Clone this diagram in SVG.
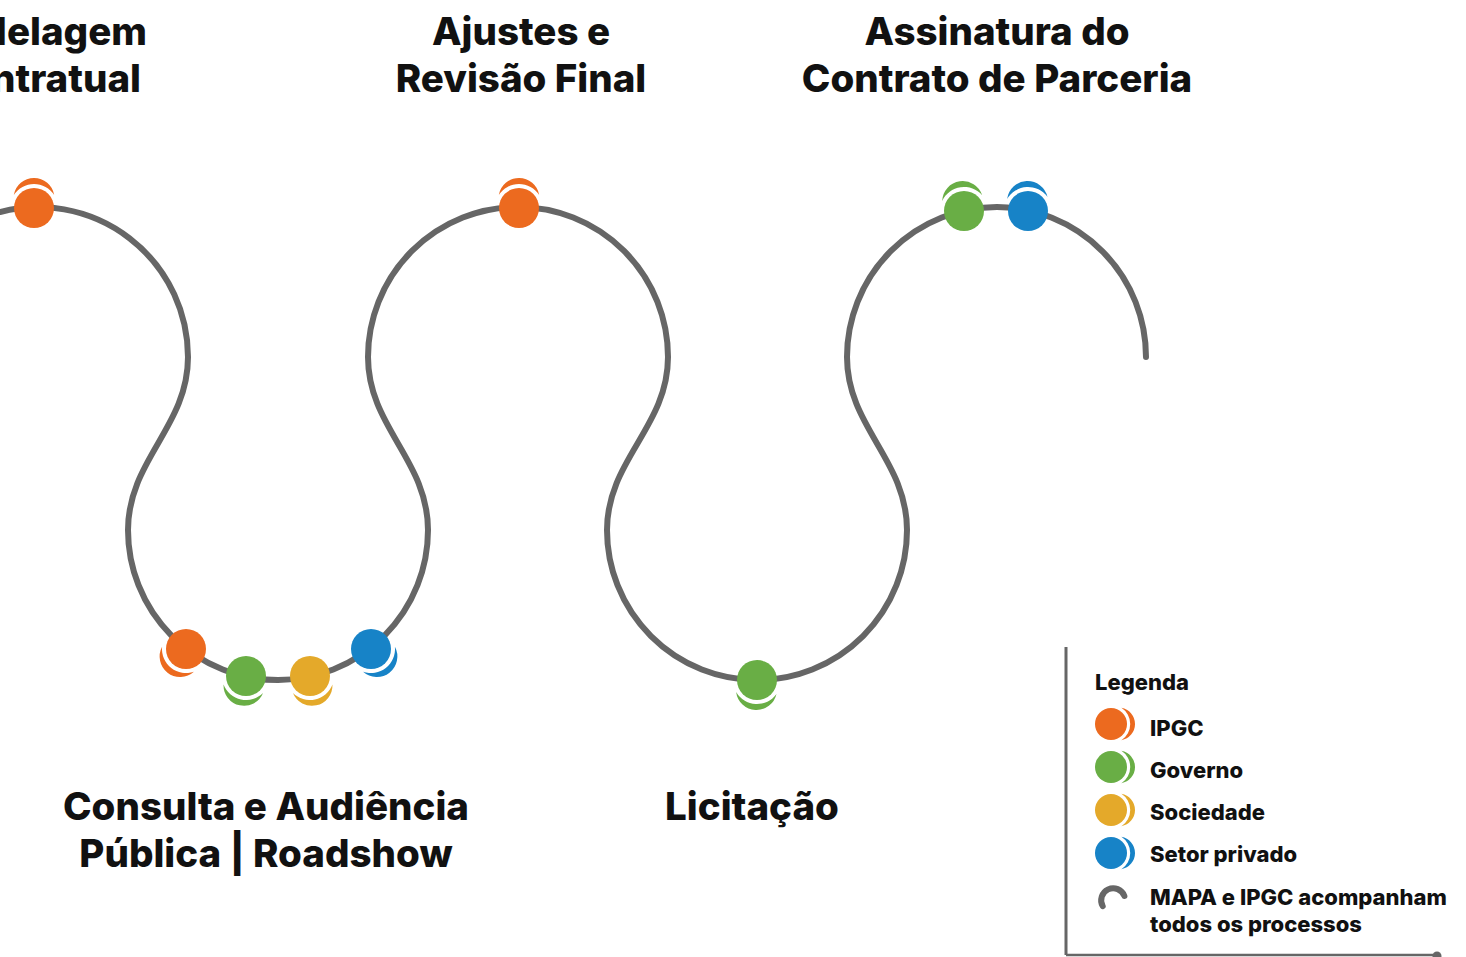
<svg xmlns="http://www.w3.org/2000/svg" width="1466" height="957" viewBox="0 0 1466 957">
<style>
.t{font-family:Inter,"Liberation Sans",sans-serif;font-weight:800;fill:#111;font-size:38.5px;text-anchor:middle}
.l{font-family:Inter,"Liberation Sans",sans-serif;font-weight:800;fill:#111;font-size:22px}
.o{fill:#EC6A1F}.g{fill:#69AE45}.y{fill:#E4A92A}.b{fill:#1783C7}
.track{fill:none;stroke:#666;stroke-width:6;stroke-linecap:round}
</style>
<defs>
<path id="cr" d="M -20.2 -13 A 20.5 20.5 0 0 1 20.2 -13 A 24 24 0 0 0 -20.2 -13 Z"/>
</defs>
<rect width="1466" height="957" fill="#fff"/>
<g id="connectors">
<path class="track" d="M 0 212 A 150 150 0 0 1 188 357 C 188 427 128 460 128 530 A 150 150 0 0 0 278 680 A 150 150 0 0 0 428 530 C 428 460 368 427 368 357 A 150 150 0 0 1 518 207 A 150 150 0 0 1 668 357 C 668 427 607 460 607 530 A 150 150 0 0 0 757 680 A 150 150 0 0 0 907 530 C 907 460 847 427 847 357 A 150 150 0 0 1 997 207 A 150 150 0 0 1 1146 357"/>
</g>
<g id="title-modelagem"><text class="t" style="text-anchor:end" x="147" y="45">delagem</text><text class="t" style="text-anchor:end" x="141" y="92">ntratual</text></g>
<g id="title-ajustes"><text class="t" x="521" y="45">Ajustes e</text><text class="t" x="521" y="92">Revisão Final</text></g>
<g id="title-assinatura"><text class="t" x="997" y="45">Assinatura do</text><text class="t" x="997" y="92">Contrato de Parceria</text></g>
<g id="title-consulta"><text class="t" x="266" y="820">Consulta e Audiência</text><text class="t" x="266" y="867">Pública | Roadshow</text></g>
<g id="title-licitacao"><text class="t" x="752" y="820">Licitação</text></g>
<g id="dot1"><use href="#cr" class="o" transform="translate(34 208)"/><circle class="o" cx="34" cy="208" r="20"/></g>
<g id="dot2"><use href="#cr" class="o" transform="translate(519 208)"/><circle class="o" cx="519" cy="208" r="20"/></g>
<g id="dot3"><use href="#cr" class="g" transform="translate(964 211) rotate(-8)"/><circle class="g" cx="964" cy="211" r="20"/></g>
<g id="dot4"><use href="#cr" class="b" transform="translate(1028 211) rotate(-3)"/><circle class="b" cx="1028" cy="211" r="20"/></g>
<g id="dot5"><use href="#cr" class="o" transform="translate(186 649) rotate(-142)"/><circle class="o" cx="186" cy="649" r="20"/></g>
<g id="dot6"><use href="#cr" class="g" transform="translate(246 676) rotate(-168)"/><circle class="g" cx="246" cy="676" r="20"/></g>
<g id="dot7"><use href="#cr" class="y" transform="translate(310 676) rotate(168)"/><circle class="y" cx="310" cy="676" r="20"/></g>
<g id="dot8"><use href="#cr" class="b" transform="translate(371 649) rotate(142)"/><circle class="b" cx="371" cy="649" r="20"/></g>
<g id="dot9"><use href="#cr" class="g" transform="translate(757 680) rotate(183)"/><circle class="g" cx="757" cy="680" r="20"/></g>
<g id="legend">
<line x1="1066" y1="647" x2="1066" y2="955" stroke="#666" stroke-width="3"/>
<line x1="1066" y1="955" x2="1440" y2="955" stroke="#666" stroke-width="2.5"/>
<circle cx="1437" cy="956" r="4.5" fill="#666"/>
<text class="l" x="1095" y="690">Legenda</text>
<use href="#cr" class="o" transform="translate(1111 724) rotate(90) scale(0.8)"/><circle class="o" cx="1111" cy="724" r="16"/>
<text class="l" x="1150" y="736">IPGC</text>
<use href="#cr" class="g" transform="translate(1111 767) rotate(90) scale(0.8)"/><circle class="g" cx="1111" cy="767" r="16"/>
<text class="l" x="1150" y="778">Governo</text>
<use href="#cr" class="y" transform="translate(1111 810) rotate(90) scale(0.8)"/><circle class="y" cx="1111" cy="810" r="16"/>
<text class="l" x="1150" y="820">Sociedade</text>
<use href="#cr" class="b" transform="translate(1111 853) rotate(90) scale(0.8)"/><circle class="b" cx="1111" cy="853" r="16"/>
<text class="l" x="1150" y="862">Setor privado</text>
<path d="M 1102.7 906.1 A 12 12 0 1 1 1124.4 896" fill="none" stroke="#666" stroke-width="6" stroke-linecap="round"/>
<text class="l" x="1150" y="905">MAPA e IPGC acompanham</text>
<text class="l" x="1150" y="932">todos os processos</text>
</g>
</svg>
